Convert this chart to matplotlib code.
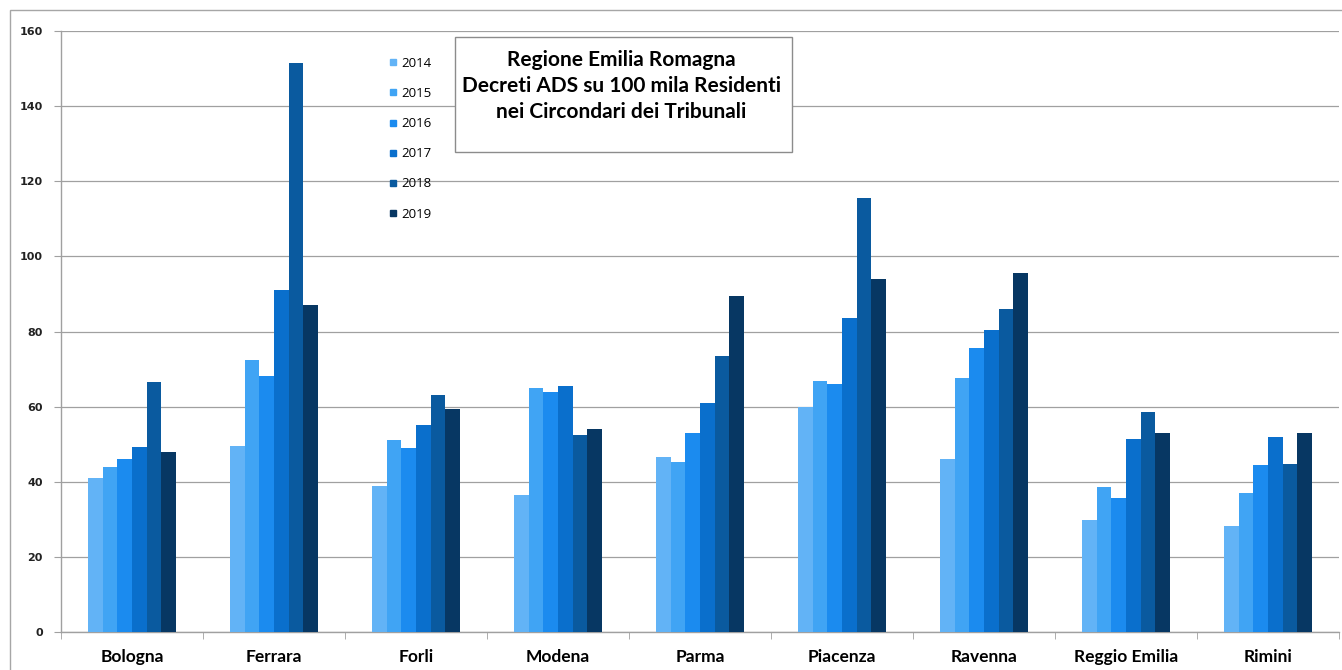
import matplotlib
matplotlib.use('Agg')
import matplotlib.pyplot as plt
from matplotlib.patches import Rectangle
from matplotlib.lines import Line2D
import numpy as np

# --- data ---
tribunali = ["Bologna", "Ferrara", "Forli", "Modena", "Parma",
             "Piacenza", "Ravenna", "Reggio Emilia", "Rimini"]
anni = ["2014", "2015", "2016", "2017", "2018", "2019"]

v2014 = [40.9, 49.5, 39.0, 36.5, 46.5, 60.0, 46.0, 29.8, 28.3]
v2015 = [44.0, 72.5, 51.0, 65.0, 45.3, 66.8, 67.5, 38.7, 37.0]
v2016 = [46.1, 68.2, 49.0, 64.0, 53.0, 66.0, 75.5, 35.8, 44.5]
v2017 = [49.3, 91.0, 55.0, 65.5, 61.0, 83.5, 80.5, 51.3, 51.8]
v2018 = [66.6, 151.5, 63.0, 52.5, 73.5, 115.5, 86.0, 58.7, 44.8]
v2019 = [48.0, 87.0, 59.5, 54.0, 89.5, 94.0, 95.5, 52.9, 52.9]
valori = [v2014, v2015, v2016, v2017, v2018, v2019]

colori = ["#62b3f6", "#40a4f4", "#1b8bef", "#0a6fcc", "#0a5a9f", "#073763"]

fig = plt.figure(figsize=(13.42, 6.70), dpi=100)
ax = fig.add_axes([61 / 1342, 1 - 632 / 670, 1278 / 1342, 601 / 670])

# outer chart border
fig.patches.append(Rectangle((10 / 1342, -0.01), 1.0, 1 - 10 / 670 + 0.01,
                             transform=fig.transFigure, fill=False,
                             edgecolor="#a6a6a6", linewidth=1.0))

x = np.arange(len(tribunali))
w = 0.103
for i, (anno, vals) in enumerate(zip(anni, valori)):
    offs = (i - 2.5) * w
    ax.bar(x + offs, vals, width=w, color=colori[i], label=anno, zorder=3)

ax.set_xlim(-0.5, len(tribunali) - 0.5)
ax.set_ylim(0, 160)
ax.set_yticks(np.arange(0, 161, 20))
ax.yaxis.grid(True, color="#a0a0a0", linewidth=0.9, zorder=0)

ax.set_xticks(x)
ax.set_xticklabels(tribunali, fontsize=12.5, fontweight="bold",
                   family=["Lato", "DejaVu Sans"])
ax.set_xticks(np.arange(-0.5, len(tribunali) + 0.5, 1), minor=True)
ax.tick_params(axis="x", which="major", length=0, pad=12)
ax.tick_params(axis="x", which="minor", length=5, color="#a0a0a0", direction="out")
ax.tick_params(axis="y", length=5, color="#a0a0a0", pad=8, labelsize=8,
               labelcolor="#222222")
for lab in ax.get_yticklabels():
    lab.set_fontweight("bold")

for s in ["top", "right"]:
    ax.spines[s].set_visible(False)
for s in ["left", "bottom"]:
    ax.spines[s].set_color("#a0a0a0")
    ax.spines[s].set_linewidth(1.0)

# legend as in the original: small squares, no frame
handles = [Line2D([0], [0], marker="s", linestyle="", markersize=5,
                  color=c) for c in colori]
ax.legend(handles, anni, loc="upper left",
          bbox_to_anchor=(375 / 1342, 1 - 45 / 670),
          bbox_transform=fig.transFigure, frameon=False,
          labelspacing=1.3, handletextpad=0.1, handlelength=1.0,
          prop={"family": ["Open Sans", "DejaVu Sans"], "size": 9.5})

# title box
fig.patches.append(Rectangle((455 / 1342, 1 - 152 / 670), 337 / 1342, 115 / 670,
                             transform=fig.transFigure, facecolor="white",
                             edgecolor="#8c8c8c", linewidth=1.0, zorder=5))
fig.text(621 / 1342, 1 - 86 / 670,
         "Regione Emilia Romagna\nDecreti ADS su 100 mila Residenti\nnei Circondari dei Tribunali",
         ha="center", va="center", fontsize=15, fontweight="bold",
         family=["Lato", "DejaVu Sans"], linespacing=1.35, zorder=6)

plt.savefig("out.png", dpi=100)
plt.close()
